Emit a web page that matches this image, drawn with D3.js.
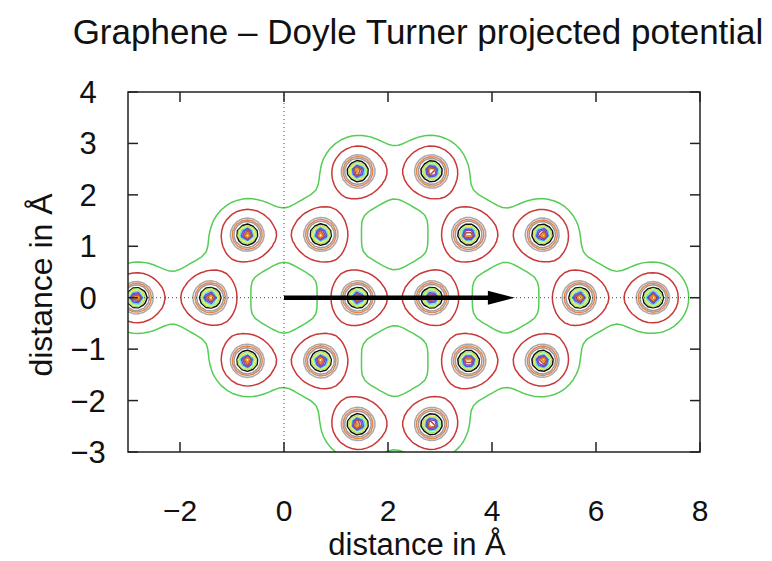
<!DOCTYPE html>
<html>
<head>
<meta charset="utf-8">
<script src="https://cdn.jsdelivr.net/npm/d3@7"></script>
<style>
  body { margin: 0; background: #fff; }
  text { font-family: "Liberation Sans", Arial, sans-serif; fill: #111; }
</style>
</head>
<body>
<div id="chart"></div>
<script>
// carbon atom positions in Angstrom
var atomX = [1.42, 2.84, -0.71, 0.71, 3.55, 4.97, -2.84, -1.42, 1.42, 2.84, 5.68, 7.10, -0.71, 0.71, 3.55, 4.97, 1.42, 2.84];
var atomY = [2.46, 2.46, 1.23, 1.23, 1.23, 1.23, 0, 0, 0, 0, 0, 0, -1.23, -1.23, -1.23, -1.23, -2.46, -2.46];

// Doyle-Turner electron scattering parameters for carbon
var dtA = [0.7307, 1.1951, 0.4563, 0.1247];
var dtB = [36.9951, 11.2966, 2.8139, 0.3456];

// contour levels (outermost first) and their line colours
var levels = [0.42, 0.88, 1.70, 1.95, 2.20, 2.70, 3.10, 3.50, 4.00, 4.60, 5.20, 5.90, 6.60];
var levelColors = ["#55cc55", "#c83838", "#a8a8b0", "#e8864a", "#a09898", "#111111", "#a8e070", "#eeee55",
                   "#66dddd", "#4a5ae0", "#9040c0", "#b05a30", "#f08a20"];

var xTicks = [-2, 0, 2, 4, 6, 8];
var yTicks = [-3, -2, -1, 0, 1, 2, 3, 4];
var arrowEnd = [4.44, 0];

var W = 772, H = 561;
var margin = {left: 128, right: 72, top: 92, bottom: 109};

var svg = d3.select("#chart").append("svg")
    .attr("width", W)
    .attr("height", H);

var x = d3.scaleLinear().domain([-3, 8]).range([margin.left, W - margin.right]);
var y = d3.scaleLinear().domain([-3, 4]).range([H - margin.bottom, margin.top]);

// sample projected potential on a grid a bit bigger than the plot
var step = 0.1, gx0 = -4, gy0 = -4;
var nx = 131, ny = 91;
var grid = new Array(nx * ny);
for (var j = 0; j < ny; j++) {
    for (var i = 0; i < nx; i++) {
        var px = gx0 + i * step, py = gy0 + j * step;
        var v = 0;
        for (var k = 0; k < atomX.length; k++) {
            var r2 = (px - atomX[k]) * (px - atomX[k]) + (py - atomY[k]) * (py - atomY[k]);
            for (var m = 0; m < 4; m++) {
                v += dtA[m] * 4 * Math.PI / dtB[m] * Math.exp(-4 * Math.PI * Math.PI * r2 / dtB[m]);
            }
        }
        grid[j * nx + i] = v;
    }
}

var contours = d3.contours().size([nx, ny]).thresholds(levels)(grid);

var toPix = d3.geoTransform({
    point: function(cx, cy) {
        this.stream.point(x(gx0 + (cx - 0.5) * step), y(gy0 + (cy - 0.5) * step));
    }
});
var path = d3.geoPath(toPix);

svg.append("clipPath").attr("id", "plotclip")
  .append("rect")
    .attr("x", x(-3)).attr("y", y(4))
    .attr("width", x(8) - x(-3)).attr("height", y(-3) - y(4));

var plot = svg.append("g").attr("clip-path", "url(#plotclip)");

plot.selectAll("path.cnt")
    .data(contours)
  .enter().append("path")
    .attr("class", "cnt")
    .attr("d", path)
    .attr("fill", "none")
    .attr("stroke", function(d, i) { return levelColors[i]; })
    .attr("stroke-width", 1.5)
    .attr("stroke-linejoin", "round");

// zero axes
plot.append("line")
    .attr("x1", x(-3)).attr("x2", x(8)).attr("y1", y(0)).attr("y2", y(0))
    .attr("stroke", "#444").attr("stroke-width", 1).attr("stroke-dasharray", "1,3");
plot.append("line")
    .attr("x1", x(0)).attr("x2", x(0)).attr("y1", y(-3)).attr("y2", y(4))
    .attr("stroke", "#444").attr("stroke-width", 1).attr("stroke-dasharray", "1,3");

// arrow
var headLen = 27, headHalf = 7;
plot.append("line")
    .attr("x1", x(0)).attr("y1", y(0))
    .attr("x2", x(arrowEnd[0]) - headLen + 2).attr("y2", y(arrowEnd[1]))
    .attr("stroke", "#000").attr("stroke-width", 4.5);
plot.append("path")
    .attr("d", "M" + x(arrowEnd[0]) + "," + y(arrowEnd[1]) +
               "L" + (x(arrowEnd[0]) - headLen) + "," + (y(arrowEnd[1]) - headHalf) +
               "L" + (x(arrowEnd[0]) - headLen) + "," + (y(arrowEnd[1]) + headHalf) + "Z")
    .attr("fill", "#000");

// frame + ticks (mirrored, inward)
svg.append("rect")
    .attr("x", x(-3)).attr("y", y(4))
    .attr("width", x(8) - x(-3)).attr("height", y(-3) - y(4))
    .attr("fill", "none").attr("stroke", "#222").attr("stroke-width", 1.5);

var tl = 10;
var ticks = svg.append("g").attr("stroke", "#222").attr("stroke-width", 1.5);
xTicks.forEach(function(t) {
    ticks.append("line").attr("x1", x(t)).attr("x2", x(t)).attr("y1", y(-3)).attr("y2", y(-3) - tl);
    ticks.append("line").attr("x1", x(t)).attr("x2", x(t)).attr("y1", y(4)).attr("y2", y(4) + tl);
});
yTicks.forEach(function(t) {
    ticks.append("line").attr("x1", x(-3)).attr("x2", x(-3) + tl).attr("y1", y(t)).attr("y2", y(t));
    ticks.append("line").attr("x1", x(8)).attr("x2", x(8) - tl).attr("y1", y(t)).attr("y2", y(t));
});

var fmt = function(t) { return t < 0 ? "\u2212" + Math.abs(t) : "" + t; };

svg.selectAll("text.xt")
    .data(xTicks)
  .enter().append("text")
    .attr("class", "xt")
    .attr("x", function(d) { return x(d); })
    .attr("y", 521)
    .attr("text-anchor", "middle")
    .attr("font-size", "30px")
    .text(fmt);

svg.selectAll("text.yt")
    .data(yTicks)
  .enter().append("text")
    .attr("class", "yt")
    .attr("x", 88)
    .attr("y", function(d) { return y(d) + 11; })
    .attr("text-anchor", "middle")
    .attr("font-size", "31px")
    .text(fmt);

svg.append("text")
    .attr("x", 418).attr("y", 44)
    .attr("text-anchor", "middle")
    .attr("font-size", "35px")
    .text("Graphene \u2013 Doyle Turner projected potential");

svg.append("text")
    .attr("x", 417).attr("y", 554.5)
    .attr("text-anchor", "middle")
    .attr("font-size", "31px")
    .text("distance in \u00c5");

svg.append("text")
    .attr("transform", "translate(52,285) rotate(-90)")
    .attr("text-anchor", "middle")
    .attr("font-size", "32px")
    .text("distance in \u00c5");
</script>
</body>
</html>
